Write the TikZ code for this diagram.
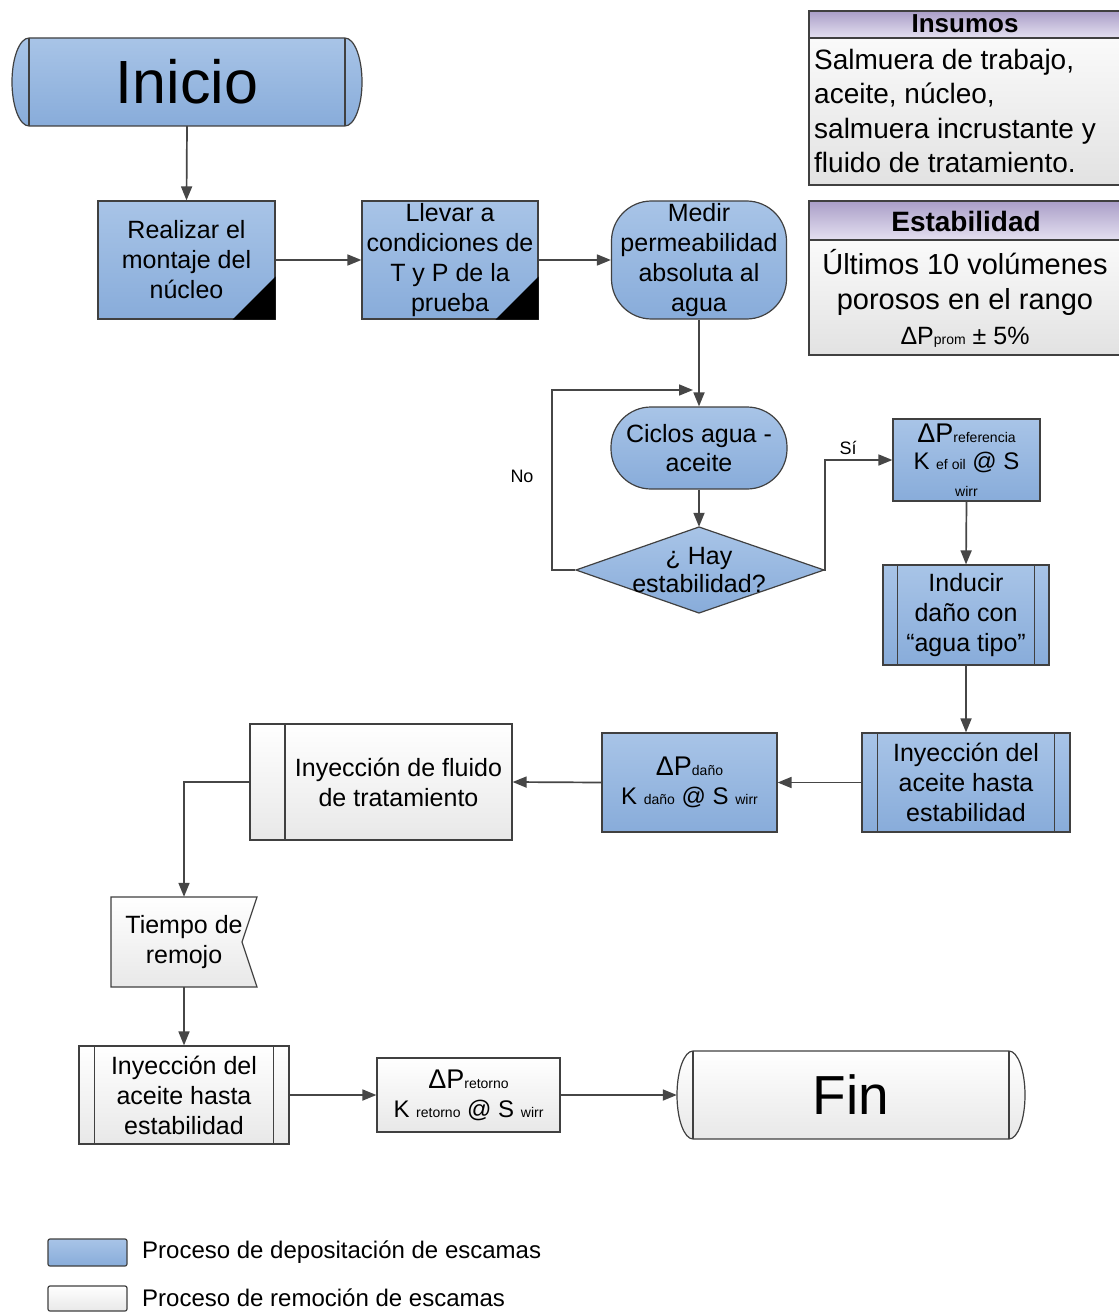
\documentclass[tikz,border=0pt]{standalone}
\usepackage{fontspec}
\setmainfont{Liberation Sans}
\usetikzlibrary{arrows.meta}
\definecolor{bluetop}{RGB}{168,196,231}
\definecolor{bluebot}{RGB}{136,172,218}
\definecolor{edgec}{RGB}{64,64,64}
\definecolor{linec}{RGB}{70,70,70}
\definecolor{hdrtop}{RGB}{170,158,200}
\definecolor{hdrbot}{RGB}{228,224,240}
\definecolor{graytop}{RGB}{250,250,250}
\definecolor{graybot}{RGB}{226,226,226}
\definecolor{wbot}{RGB}{232,232,232}
\newcommand\myfs[2]{\fontsize{#1}{#2}\selectfont}
\newcommand\subtxt[1]{{\fontsize{14}{14}\selectfont #1}}
\begin{document}
\begin{tikzpicture}[x=1pt,y=-1pt,
  bluefill/.style={top color=bluetop,bottom color=bluebot},
  whitefill/.style={top color=white,bottom color=wbot},
  boxedge/.style={draw=edgec,line width=1.2pt},
  box/.style={boxedge,inner sep=0pt,align=center,font=\myfs{25}{30}},
  txt/.style={inner sep=0pt,align=center,font=\myfs{25}{30}},
  conn/.style={draw=linec,line width=1.7pt,-{Triangle[length=14pt,width=11pt]}},
]
\useasboundingbox (0,0) rectangle (1118,1313);
\fill[white] (0,0) rectangle (1118,1313);

% Inicio terminal
\path[bluefill,boxedge] (29,38) -- (345,38) arc[start angle=90,end angle=-90,x radius=17pt,y radius=44pt]
  -- (29,126) arc[start angle=270,end angle=90,x radius=17pt,y radius=44pt] -- cycle;
\draw[edgec,line width=1.2pt] (29,38) -- (29,126) (345,38) -- (345,126);
\node[txt,font=\myfs{61}{61},minimum width=350pt,minimum height=88pt] (ini) at (187,82) {Inicio};

% Row 1
\node[box,bluefill,minimum width=177pt,minimum height=118pt] (real) at (186.5,260) {Realizar el\\montaje del\\núcleo};
\fill ([xshift=-43pt]real.south east) -- (real.south east) -- ([yshift=43pt]real.south east) -- cycle;
\node[box,bluefill,minimum width=176pt,minimum height=118pt] (llev) at (450,260) {Llevar a\\condiciones de\\T y P de la\\prueba};
\fill ([xshift=-43pt]llev.south east) -- (llev.south east) -- ([yshift=43pt]llev.south east) -- cycle;
\node[box,bluefill,rounded corners=40pt,minimum width=175pt,minimum height=118pt] (med) at (699,260) {Medir\\permeabilidad\\absoluta al\\agua};

% Cycle
\node[box,bluefill,rounded corners=40pt,minimum width=176pt,minimum height=82pt,font=\myfs{25}{29}] (cic) at (699,448) {Ciclos agua -\\aceite};
\path[bluefill,boxedge] (576,570) -- (699,527) -- (824,570) -- (699,613) -- cycle;
\node[txt,font=\myfs{25}{28},minimum width=248pt,minimum height=86pt] (dia) at (699,570) {¿ Hay\\estabilidad?};

\node[box,bluefill,minimum width=147pt,minimum height=82pt,font=\myfs{24}{27}] (ref) at (966.5,460)
  {{\myfs{27}{27}ΔP}\subtxt{referencia}\\K \subtxt{ef oil} @ S\\\subtxt{wirr}};

\node[box,bluefill,minimum width=166pt,minimum height=100pt] (ind) at (966,615) {Inducir\\daño con\\“agua tipo”};
\draw[edgec,line width=1.2pt] ([xshift=15pt]ind.north west) -- ([xshift=15pt]ind.south west)
  ([xshift=-15pt]ind.north east) -- ([xshift=-15pt]ind.south east);

\node[box,bluefill,minimum width=208pt,minimum height=99pt] (iny1) at (966,782.5) {Inyección del\\aceite hasta\\estabilidad};
\draw[edgec,line width=1.2pt] ([xshift=16pt]iny1.north west) -- ([xshift=16pt]iny1.south west)
  ([xshift=-16pt]iny1.north east) -- ([xshift=-16pt]iny1.south east);

\node[box,bluefill,minimum width=175pt,minimum height=99pt,font=\myfs{24}{29}] (dano) at (689.5,782.5)
  {{\myfs{27}{29}ΔP}\subtxt{daño}\\K \subtxt{daño} @ S \subtxt{wirr}};

% Removal process
\path[whitefill,boxedge] (250,724) rectangle (285,840);
\node[box,whitefill,minimum width=227pt,minimum height=116pt] (flu) at (398.5,782) {Inyección de fluido\\de tratamiento};
\coordinate (fluw) at ([xshift=-35pt]flu.west);

\path[whitefill,boxedge] (111,897) -- (257,897) -- (242,942) -- (257,987) -- (111,987) -- cycle;
\node[txt,minimum width=146pt,minimum height=90pt] (tie) at (184,942) {Tiempo de\\remojo};

\node[box,whitefill,minimum width=210pt,minimum height=98pt] (iny2) at (184,1095) {Inyección del\\aceite hasta\\estabilidad};
\draw[edgec,line width=1.2pt] ([xshift=16pt]iny2.north west) -- ([xshift=16pt]iny2.south west)
  ([xshift=-16pt]iny2.north east) -- ([xshift=-16pt]iny2.south east);

\node[box,whitefill,minimum width=183pt,minimum height=74pt,font=\myfs{24}{29}] (ret) at (468.5,1095)
  {{\myfs{27}{29}ΔP}\subtxt{retorno}\\K \subtxt{retorno} @ S \subtxt{wirr}};

% Fin terminal
\path[whitefill,boxedge] (693,1051) -- (1009,1051) arc[start angle=90,end angle=-90,x radius=16pt,y radius=44pt]
  -- (693,1139) arc[start angle=270,end angle=90,x radius=16pt,y radius=44pt] -- cycle;
\draw[edgec,line width=1.2pt] (693,1051) -- (693,1139) (1009,1051) -- (1009,1139);
\node[txt,font=\myfs{55}{55},minimum width=348pt,minimum height=88pt] (fin) at (851,1095) {Fin};

% Info boxes
\path[top color=hdrtop,bottom color=hdrbot,boxedge] (809,11) rectangle (1122,38);
\node[inner sep=0pt,font=\bfseries\myfs{26}{26}] (insh) at (965,24) {Insumos};
\path[top color=graytop,bottom color=graybot,boxedge] (809,38) rectangle (1122,185);
\node[anchor=west,align=left,inner sep=0pt,font=\myfs{28}{34.5}] (insb) at (814,111)
  {Salmuera de trabajo,\\aceite, núcleo,\\salmuera incrustante y\\fluido de tratamiento.};

\path[top color=hdrtop,bottom color=hdrbot,boxedge] (809,201) rectangle (1122,240);
\node[inner sep=0pt,font=\bfseries\myfs{28}{28}] (estb) at (966,221) {Estabilidad};
\path[top color=graytop,bottom color=graybot,boxedge] (809,240) rectangle (1122,355);
\node[align=center,inner sep=0pt,font=\myfs{29}{35}] (estc) at (965,298)
  {Últimos 10 volúmenes\\porosos en el rango\\{\myfs{25}{35}ΔP\subtxt{prom} ± 5\%}};

% Labels
\node[inner sep=0pt,font=\myfs{18}{18}] (nolab) at (522,476) {No};
\node[inner sep=0pt,font=\myfs{18}{18}] (silab) at (848,448) {Sí};

% Connectors
\draw[conn] (ini.south) -- (real.north);
\draw[conn] (real.east) -- (llev.west);
\draw[conn] (llev.east) -- (med.west);
\draw[conn] (med.south) -- (cic.north);
\coordinate (loopend) at (693,390);
\draw[conn] (dia.west) -- ++(-23pt,0) |- (loopend);
\draw[conn] (cic.south) -- (dia.north);
\draw[conn] (dia.east) -- ++(2pt,0) |- (ref.west);
\draw[conn] (ref.south) -- (ind.north);
\draw[conn] (ind.south) -- (iny1.north);
\draw[conn] (iny1.west) -- (dano.east);
\draw[conn] (dano.west) -- (flu.east);
\draw[conn] (fluw) -| (tie.north);
\draw[conn] (tie.south) -- (iny2.north);
\draw[conn] (iny2.east) -- (ret.west);
\draw[conn] (ret.east) -- (fin.west);

% Legend
\path[bluefill,boxedge,rounded corners=2pt] (48,1239) rectangle (127,1266);
\node[anchor=west,inner sep=0pt,font=\myfs{24}{24}] (leg1) at (142,1252) {Proceso de depositación de escamas};
\path[whitefill,boxedge,rounded corners=2pt] (48,1286) rectangle (127,1311);
\node[anchor=west,inner sep=0pt,font=\myfs{24}{24}] (leg2) at (142,1298) {Proceso de remoción de escamas};
\end{tikzpicture}
\end{document}
